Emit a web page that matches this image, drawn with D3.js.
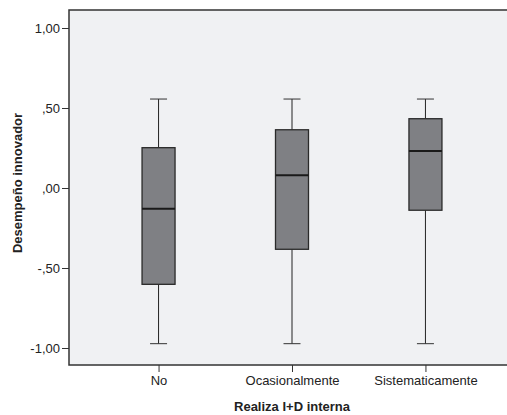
<!DOCTYPE html>
<html lang="es">
  <head>
    <meta charset="UTF-8" />
    <title>Desempeño innovador</title>
    <script src="https://cdn.jsdelivr.net/npm/d3@7"></script>
    <style>
      body {
        margin: 0;
        padding: 0;
        background: #fff;
      }
      text {
        font-family: "Liberation Sans", Arial, sans-serif;
      }
    </style>
  </head>
  <body>
    <svg id="chart"></svg>
    <script>
      // datos (min, Q1, mediana, Q3, max)
      const categorias = ["No", "Ocasionalmente", "Sistematicamente"];
      const minimos = [-0.973, -0.973, -0.973];
      const q1 = [-0.602, -0.383, -0.139];
      const medianas = [-0.129, 0.079, 0.231];
      const q3 = [0.252, 0.364, 0.433];
      const maximos = [0.556, 0.556, 0.556];
      const ticksY = [-1, -0.5, 0, 0.5, 1];

      const width = 507;
      const height = 415;
      const margin = { top: 10, right: -8, bottom: 50, left: 69 };

      const svg = d3.select("#chart").attr("width", width).attr("height", height);

      const x = d3
        .scalePoint()
        .domain(categorias)
        .range([margin.left, width - margin.right])
        .padding(0.671);

      const y = d3
        .scaleLinear()
        .domain([-1, 1])
        .range([348, 28]);

      const fmt = (v) => {
        // formato SPSS: coma decimal, sin cero inicial
        let s = d3.format(".2f")(Math.abs(v)).replace(".", ",");
        if (Math.abs(v) < 1) s = s.replace(/^0/, "");
        return (v < 0 ? "-" : "") + s;
      };

      // fondo del area de grafico
      svg
        .append("rect")
        .attr("x", margin.left)
        .attr("y", margin.top)
        .attr("width", width - margin.left + 10)
        .attr("height", height - margin.bottom - margin.top)
        .attr("fill", "#f0f1f3")
        .attr("stroke", "#333")
        .attr("stroke-width", 1.5);

      const boxes = categorias.map((c, i) => ({
        cat: c,
        min: minimos[i],
        q1: q1[i],
        med: medianas[i],
        q3: q3[i],
        max: maximos[i],
      }));

      const boxW = 33;
      const capW = 17;

      const g = svg
        .selectAll(".box")
        .data(boxes)
        .enter()
        .append("g")
        .attr("class", "box")
        .attr("transform", (d) => `translate(${x(d.cat)},0)`);

      // bigotes
      g.append("line")
        .attr("x1", 0)
        .attr("x2", 0)
        .attr("y1", (d) => y(d.max))
        .attr("y2", (d) => y(d.q3))
        .attr("stroke", "#222")
        .attr("stroke-width", 1);
      g.append("line")
        .attr("x1", 0)
        .attr("x2", 0)
        .attr("y1", (d) => y(d.q1))
        .attr("y2", (d) => y(d.min))
        .attr("stroke", "#222")
        .attr("stroke-width", 1);
      g.selectAll(".cap")
        .data((d) => [d.min, d.max])
        .enter()
        .append("line")
        .attr("class", "cap")
        .attr("x1", -capW / 2)
        .attr("x2", capW / 2)
        .attr("y1", (v) => y(v))
        .attr("y2", (v) => y(v))
        .attr("stroke", "#333")
        .attr("stroke-width", 1);

      // caja
      g.append("rect")
        .attr("x", -boxW / 2)
        .attr("width", boxW)
        .attr("y", (d) => y(d.q3))
        .attr("height", (d) => y(d.q1) - y(d.q3))
        .attr("fill", "#7f8084")
        .attr("stroke", "#2a2a2a")
        .attr("stroke-width", 1.3);

      // mediana
      g.append("line")
        .attr("x1", -boxW / 2)
        .attr("x2", boxW / 2)
        .attr("y1", (d) => y(d.med))
        .attr("y2", (d) => y(d.med))
        .attr("stroke", "#1a1a1a")
        .attr("stroke-width", 2);

      // eje Y
      const yAxis = svg
        .append("g")
        .attr("transform", `translate(${margin.left},0)`)
        .call(d3.axisLeft(y).tickValues(ticksY).tickFormat(fmt).tickSize(7).tickPadding(2));
      yAxis.select(".domain").remove();
      yAxis.selectAll("line").attr("stroke", "#333");
      yAxis
        .selectAll("text")
        .attr("font-size", "13px")
        .attr("font-family", "Liberation Sans, Arial, sans-serif")
        .attr("fill", "#222");

      // eje X
      const xAxis = svg
        .append("g")
        .attr("transform", `translate(0,${height - margin.bottom})`)
        .call(d3.axisBottom(x).tickSize(7).tickPadding(4));
      xAxis.select(".domain").remove();
      xAxis.selectAll("line").attr("stroke", "#333");
      xAxis
        .selectAll("text")
        .attr("font-size", "13px")
        .attr("font-family", "Liberation Sans, Arial, sans-serif")
        .attr("fill", "#222");

      // titulos de ejes
      svg
        .append("text")
        .attr("x", 292)
        .attr("y", 411)
        .attr("text-anchor", "middle")
        .attr("font-size", "13px")
        .attr("font-weight", "bold")
        .attr("fill", "#222")
        .text("Realiza I+D interna");

      svg
        .append("text")
        .attr("transform", `translate(22,${y(0) - 5}) rotate(-90)`)
        .attr("text-anchor", "middle")
        .attr("font-size", "13px")
        .attr("font-weight", "bold")
        .attr("fill", "#222")
        .text("Desempeño innovador");
    </script>
  </body>
</html>
